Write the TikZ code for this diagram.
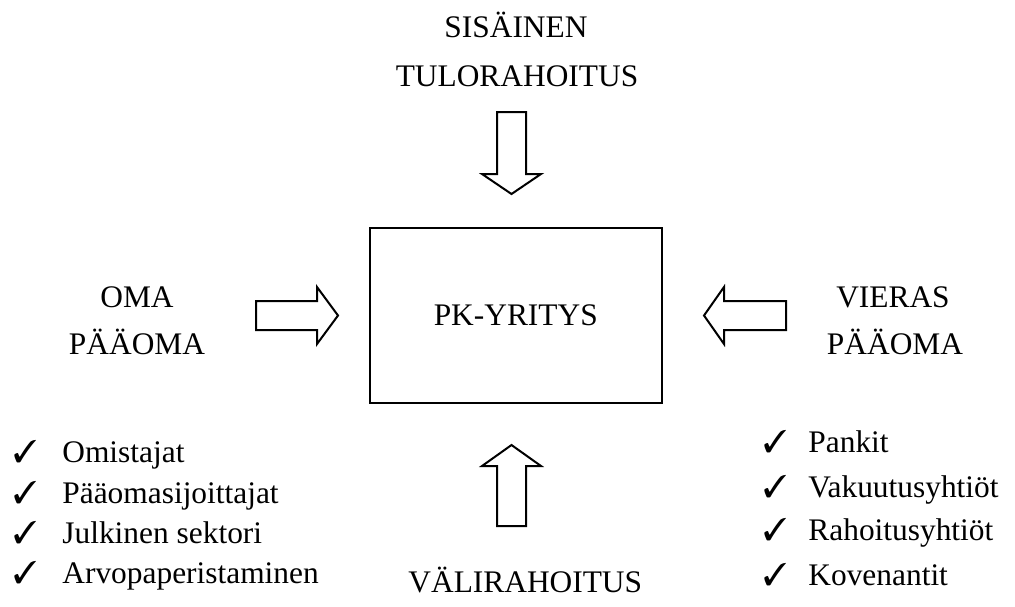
\documentclass[tikz,border=0pt]{standalone}
\usepackage{fontspec}
\setmainfont{Liberation Serif}
\usepackage{pifont}
\tikzset{
  txt/.style={font=\fontsize{15.7}{18}\selectfont, inner sep=0pt},
  heading/.style={txt, anchor=base},
  listitem/.style={txt, anchor=base west},
  blockarrow/.style={draw, line width=1pt, line join=miter, fill=white}
}
\newcommand{\chk}{\makebox[24.5pt][l]{\ding{51}}}
\newcommand{\chkr}{\makebox[22.5pt][l]{\ding{51}}}

\begin{document}
\begin{tikzpicture}[x=0.5pt, y=-0.5pt]
        \useasboundingbox (0,0) rectangle (1015,606);

        \node[txt, draw, line width=1pt, minimum width=146.25pt, minimum height=87.5pt] (yritys) at (515.75,315.5) {PK-YRITYS};

        \node[heading] (sisainen) at (516,37) {SISÄINEN};
        \node[heading] (tulorahoitus) at (517,86) {TULORAHOITUS};
        \node[heading] (oma) at (137,307) {OMA};
        \node[heading] (omapaaoma) at (137,354) {PÄÄOMA};
        \node[heading] (vieras) at (893,307) {VIERAS};
        \node[heading] (vieraspaaoma) at (895,354) {PÄÄOMA};
        \node[listitem] (valirahoitus) at (408,592) {VÄLIRAHOITUS};

        \draw[blockarrow] (256,301) -- (317,301) -- (317,287) -- (338,315.5) -- (317,344) -- (317,330) -- (256,330) -- cycle;
        \draw[blockarrow] (786,301) -- (724,301) -- (724,287) -- (704,315.5) -- (724,344) -- (724,330) -- (786,330) -- cycle;
        \draw[blockarrow] (497,112) -- (526,112) -- (526,174) -- (541,174) -- (511.5,194) -- (482,174) -- (497,174) -- cycle;
        \draw[blockarrow] (497,526) -- (526,526) -- (526,466) -- (541,466) -- (511.5,445) -- (482,466) -- (497,466) -- cycle;

        \node[listitem] (omistajat) at (13,462) {\chk Omistajat};
        \node[listitem] (sijoittajat) at (13,503) {\chk Pääomasijoittajat};
        \node[listitem] (sektori) at (13,543) {\chk Julkinen sektori};
        \node[listitem] (arvopaperit) at (13,583) {\chk Arvopaperistaminen};

        \node[listitem] (pankit) at (763,452) {\chkr Pankit};
        \node[listitem] (vakuutus) at (763,497) {\chkr Vakuutusyhtiöt};
        \node[listitem] (rahoitus) at (763,540) {\chkr Rahoitusyhtiöt};
        \node[listitem] (kovenantit) at (763,585) {\chkr Kovenantit};
    \end{tikzpicture}
\end{document}
